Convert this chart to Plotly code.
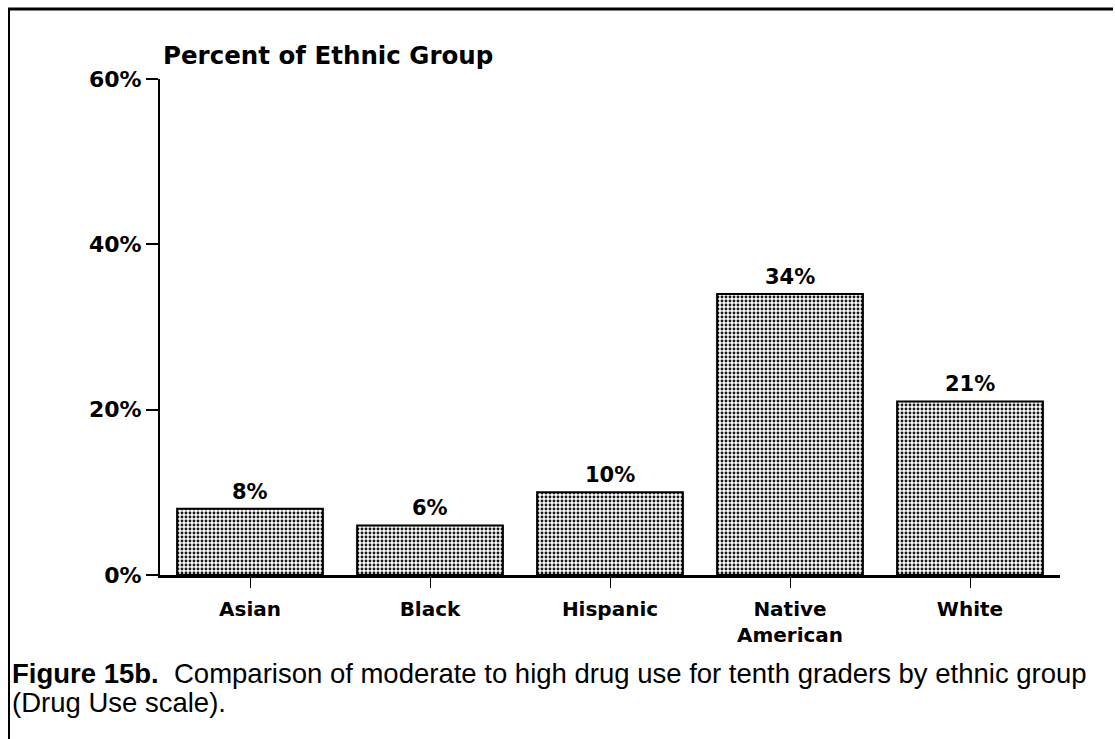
import plotly.graph_objects as go

# Share of tenth graders with moderate to high drug use, by ethnic group
groups = ["Asian", "Black", "Hispanic", "Native<br>American", "White"]
pct = [8, 6, 10, 34, 21]

y_tick_vals = [0, 20, 40, 60]
y_tick_text = ["0%", "20%", "40%", "60%"]

axis_title = "Percent of Ethnic Group"
caption_line1 = "<b>Figure 15b.</b>\u00a0 Comparison of moderate to high drug use for tenth graders by ethnic group"
caption_line2 = "(Drug Use scale)."

W, H = 1115, 739
ML, MR, MT, MB = 160, 55, 79, 164
PW, PH = W - ML - MR, H - MT - MB


def px_x(px):
    return (px - ML) / PW


def px_y(py):
    return (H - MB - py) / PH


label_font = dict(family="DejaVu Sans", size=22, color="black", weight="bold")

fig = go.Figure(
    go.Bar(
        x=groups,
        y=pct,
        width=0.81,
        marker=dict(
            color="#1a1a1a",
            line=dict(color="black", width=2),
            pattern=dict(shape=".", fillmode="replace", bgcolor="white",
                         fgcolor="#1a1a1a", size=4, solidity=0.42),
        ),
        hoverinfo="skip",
    )
)

annotations = []
for g, v in zip(groups, pct):
    annotations.append(dict(
        x=g, y=v, xref="x", yref="y", text=f"{v}%", showarrow=False,
        yanchor="bottom", yshift=3,
        font=dict(family="DejaVu Sans", size=21, color="black", weight="bold"),
    ))

annotations.append(dict(
    x=px_x(161), y=px_y(55), xref="paper", yref="paper", text=axis_title,
    showarrow=False, xanchor="left", yanchor="middle",
    font=dict(family="DejaVu Sans", size=24.5, color="black", weight="bold"),
))

caption_font = dict(family="Liberation Sans", size=27.5, color="black")
annotations.append(dict(
    x=px_x(10), y=px_y(673), xref="paper", yref="paper", text=caption_line1,
    showarrow=False, xanchor="left", yanchor="middle", font=caption_font,
))
annotations.append(dict(
    x=px_x(10), y=px_y(702), xref="paper", yref="paper", text=caption_line2,
    showarrow=False, xanchor="left", yanchor="middle", font=caption_font,
))

# open frame: rule across the top and down the left edge
shapes = [
    dict(type="line", xref="paper", yref="paper",
         x0=px_x(8), x1=px_x(1113), y0=px_y(9), y1=px_y(9),
         line=dict(color="black", width=3)),
    dict(type="line", xref="paper", yref="paper",
         x0=px_x(9), x1=px_x(9), y0=px_y(8), y1=px_y(739),
         line=dict(color="black", width=2)),
]

fig.update_layout(
    width=W, height=H,
    margin=dict(l=ML, r=MR, t=MT, b=MB, pad=0),
    paper_bgcolor="white", plot_bgcolor="white",
    showlegend=False,
    annotations=annotations,
    shapes=shapes,
    xaxis=dict(
        range=[-0.5, 4.5], showline=True, linecolor="black", linewidth=3,
        ticks="outside", ticklen=10, tickwidth=1, tickcolor="black",
        ticklabelstandoff=4,
        tickfont=dict(family="DejaVu Sans", size=20, color="black", weight="bold"),
        showgrid=False, zeroline=False, fixedrange=True,
    ),
    yaxis=dict(
        range=[0, 60], tickvals=y_tick_vals, ticktext=y_tick_text,
        showline=True, linecolor="black", linewidth=2,
        ticks="outside", ticklen=12, tickwidth=2, tickcolor="black",
        tickfont=label_font,
        showgrid=False, zeroline=False, fixedrange=True,
    ),
)

fig.write_html("out.html")
